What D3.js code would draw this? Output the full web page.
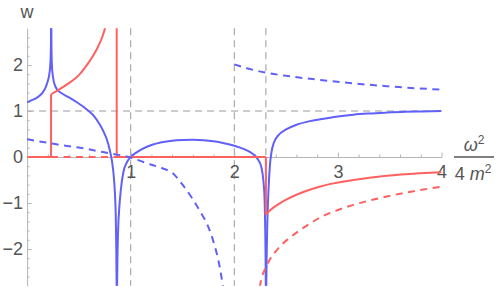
<!DOCTYPE html>
<html><head><meta charset="utf-8">
<script src="https://cdn.jsdelivr.net/npm/d3@7"></script>
<style>
body{margin:0;background:#fff;}
svg{display:block;}
text{font-family:"Liberation Sans",Arial,sans-serif;fill:#555;}
</style></head>
<body>
<script>
// ---- data ----
const xTicks = [1, 2, 3, 4];
const yTicks = [-2, -1, 0, 1, 2];
const xMinor = [0.2,0.4,0.6,0.8,1.2,1.4,1.6,1.8,2.2,2.4,2.6,2.8,3.2,3.4,3.6,3.8];
const yMinor = [-2.6,-2.4,-2.2,-1.8,-1.6,-1.4,-1.2,-0.8,-0.6,-0.4,-0.2,0.2,0.4,0.6,0.8,1.2,1.4,1.6,1.8,2.2,2.4,2.6];
const gridX = [1, 2, 2.305];
const gridY = [1];

// blue solid
const blueSolidA = [[0,1.19],[0.04,1.23],[0.08,1.27],[0.12,1.33],[0.15,1.40],[0.18,1.52],[0.2,1.65],[0.213,1.78],[0.222,1.95],[0.228,2.2],[0.231,2.6],[0.232,3.0]];
const blueSolidB = [[0.233,3.0],[0.235,2.4],[0.24,1.97],[0.25,1.74],[0.265,1.58],[0.286,1.48],[0.33,1.39],[0.4,1.3],[0.48,1.19],[0.55,1.08],[0.6,0.99],[0.65,0.88],[0.7,0.71],[0.74,0.54],[0.77,0.38],[0.8,0.13],[0.82,-0.1],[0.835,-0.38],[0.848,-0.8],[0.856,-1.3],[0.861,-2],[0.865,-3.1]];
const blueSolidC = [[0.867,-3.1],[0.872,-2.2],[0.88,-1.5],[0.89,-1.1],[0.903,-0.75],[0.93,-0.32],[0.96,-0.13],[1.0,0.0],[1.05,0.09],[1.1,0.16],[1.2,0.26],[1.3,0.32],[1.4,0.355],[1.5,0.37],[1.6,0.375],[1.7,0.365],[1.8,0.34],[1.9,0.3],[2.0,0.245],[2.1,0.165],[2.15,0.11],[2.2,0.03],[2.23,-0.06],[2.26,-0.21],[2.28,-0.5],[2.292,-0.9],[2.298,-1.5],[2.302,-2.2],[2.305,-3.1]];
const blueSolidD = [[2.307,-3.1],[2.312,-2.2],[2.318,-1.5],[2.325,-1.0],[2.335,-0.5],[2.345,-0.15],[2.36,0.12],[2.38,0.3],[2.42,0.46],[2.5,0.6],[2.6,0.7],[2.73,0.78],[2.83,0.82],[3.0,0.88],[3.15,0.92],[3.3,0.945],[3.47,0.965],[3.65,0.982],[3.8,0.99],[4.0,1.0]];

// red solid
const redSolidA = [[0,0],[0.231,0]];
const redSolidB = [[0.231,0],[0.231,1.363]];
const redSolidC = [[0.231,1.363],[0.3,1.456],[0.4,1.6],[0.5,1.78],[0.59,2.04],[0.67,2.33],[0.726,2.615],[0.752,2.8],[0.77,3.0]];
const redSolidD = [[0.865,3.1],[0.865,0]];
const redSolidE = [[0.865,0],[2.305,0]];
const redSolidF = [[2.305,0],[2.305,-1.26]];
const redSolidG = [[2.305,-1.26],[2.33,-1.19],[2.377,-1.1],[2.45,-0.99],[2.506,-0.92],[2.6,-0.82],[2.666,-0.76],[2.83,-0.64],[2.92,-0.59],[3.15,-0.5],[3.47,-0.41],[3.79,-0.355],[4.0,-0.33]];

// blue dashed
const blueDashA = [[0,0.385],[0.1,0.345],[0.22,0.3],[0.35,0.25],[0.543,0.19],[0.7,0.12],[0.817,0.07],[0.9,0.04],[1.0,-0.01],[1.1,-0.09],[1.2,-0.17],[1.3,-0.24],[1.4,-0.34],[1.5,-0.6],[1.6,-0.92],[1.7,-1.3],[1.734,-1.44],[1.8,-1.85],[1.83,-2.09],[1.86,-2.4],[1.888,-2.78],[1.905,-3.05]];
const blueDashB = [[2.0,2.015],[2.12,1.93],[2.313,1.83],[2.57,1.745],[2.83,1.674],[3.15,1.6],[3.47,1.54],[3.79,1.49],[4.0,1.465]];

// red dashed
const redDashA = [[0.231,0],[0.865,0]];
const redDashB = [[2.235,-3.1],[2.25,-2.78],[2.3,-2.42],[2.345,-2.22],[2.4,-2.05],[2.47,-1.88],[2.55,-1.73],[2.634,-1.59],[2.75,-1.42],[2.83,-1.31],[2.92,-1.22],[3.15,-1.04],[3.47,-0.86],[3.79,-0.72],[4.0,-0.645]];

// ---- drawing ----
const W = 498, H = 287;
const svg = d3.select("body").append("svg").attr("width", W).attr("height", H);
svg.append("rect").attr("width", W).attr("height", H).attr("fill", "#fff");

const x = d3.scaleLinear().domain([0, 4]).range([27.1, 441.5]);
const y = d3.scaleLinear().domain([-2.8, 2.8]).range([285.8, 28.2]);

svg.append("defs").append("clipPath").attr("id", "clip")
  .append("rect").attr("x", x(0)).attr("y", y(2.8)).attr("width", x(4) - x(0)).attr("height", y(-2.8) - y(2.8));

const gridCol = "#9a9a9a";
// grid lines
svg.append("g").selectAll("line").data(gridX).join("line")
  .attr("x1", d => x(d)).attr("x2", d => x(d)).attr("y1", y(2.8)).attr("y2", y(-2.8))
  .attr("stroke", gridCol).attr("stroke-width", 1).attr("stroke-dasharray", "7,5");
svg.append("g").selectAll("line").data(gridY).join("line")
  .attr("x1", x(0)).attr("x2", x(4)).attr("y1", d => y(d)).attr("y2", d => y(d))
  .attr("stroke", gridCol).attr("stroke-width", 1).attr("stroke-dasharray", "7,5");

// axes
const axCol = "#b5b5b5";
function styleAxis(g) {
  g.selectAll("path.domain").attr("stroke", axCol);
  g.selectAll(".tick line").attr("stroke", axCol);
  g.selectAll("text").attr("fill", "#555").attr("font-size", 18)
    .attr("font-family", '"Liberation Sans",Arial,sans-serif');
}
const gx = svg.append("g").attr("transform", `translate(0,${y(0)})`)
  .call(d3.axisBottom(x).tickValues(xTicks).tickSize(-4.5).tickSizeOuter(0).tickPadding(8).tickFormat(d3.format("d")));
styleAxis(gx);
const gxm = svg.append("g").attr("transform", `translate(0,${y(0)})`)
  .call(d3.axisBottom(x).tickValues(xMinor).tickSize(-2.5).tickSizeOuter(0).tickFormat(""));
gxm.select("path.domain").remove();
styleAxis(gxm);

const gy = svg.append("g").attr("transform", `translate(${x(0)},0)`)
  .call(d3.axisLeft(y).tickValues(yTicks).tickSize(-4.5).tickSizeOuter(0).tickPadding(4).tickFormat(d3.format("d")));
styleAxis(gy);
const gym = svg.append("g").attr("transform", `translate(${x(0)},0)`)
  .call(d3.axisLeft(y).tickValues(yMinor).tickSize(-2.5).tickSizeOuter(0).tickFormat(""));
gym.select("path.domain").remove();
styleAxis(gym);

// curves
const plot = svg.append("g").attr("clip-path", "url(#clip)");
function draw(seg, color, dashed) {
  const increasing = seg.every((p, i) => i === 0 || p[0] > seg[i - 1][0]);
  const gen = d3.line().x(d => x(d[0])).y(d => y(d[1]))
    .curve(increasing && seg.length > 2 ? d3.curveMonotoneX : d3.curveLinear);
  const p = plot.append("path").attr("d", gen(seg)).attr("fill", "none")
    .attr("stroke", color).attr("stroke-width", 2).attr("stroke-linejoin", "round");
  if (dashed) p.attr("stroke-dasharray", "7,5.5");
}
const blue = "#6060fa", red = "#ff6060";
[blueSolidA, blueSolidB, blueSolidC, blueSolidD].forEach(s => draw(s, blue, false));
[redSolidA, redSolidB, redSolidC, redSolidD, redSolidE, redSolidF, redSolidG].forEach(s => draw(s, red, false));
[blueDashA, blueDashB].forEach(s => draw(s, blue, true));
[redDashA, redDashB].forEach(s => draw(s, red, true));

// axis labels
svg.append("text").attr("x", x(0)).attr("y", 18).attr("text-anchor", "middle")
  .attr("font-size", 18).text("w");

const lab = svg.append("g");
const num = lab.append("text").attr("x", 474).attr("y", 151).attr("text-anchor", "middle").attr("font-size", 18);
num.append("tspan").attr("font-style", "italic").text("ω");
num.append("tspan").attr("font-size", 12).attr("dy", -7).text("2");
lab.append("line").attr("x1", 454).attr("x2", 494).attr("y1", 157).attr("y2", 157)
  .attr("stroke", "#555").attr("stroke-width", 1.3);
const den = lab.append("text").attr("x", 473).attr("y", 180).attr("text-anchor", "middle").attr("font-size", 18);
den.append("tspan").text("4 ");
den.append("tspan").attr("font-style", "italic").text("m");
den.append("tspan").attr("font-size", 12).attr("dy", -7).text("2");
</script>
</body></html>
